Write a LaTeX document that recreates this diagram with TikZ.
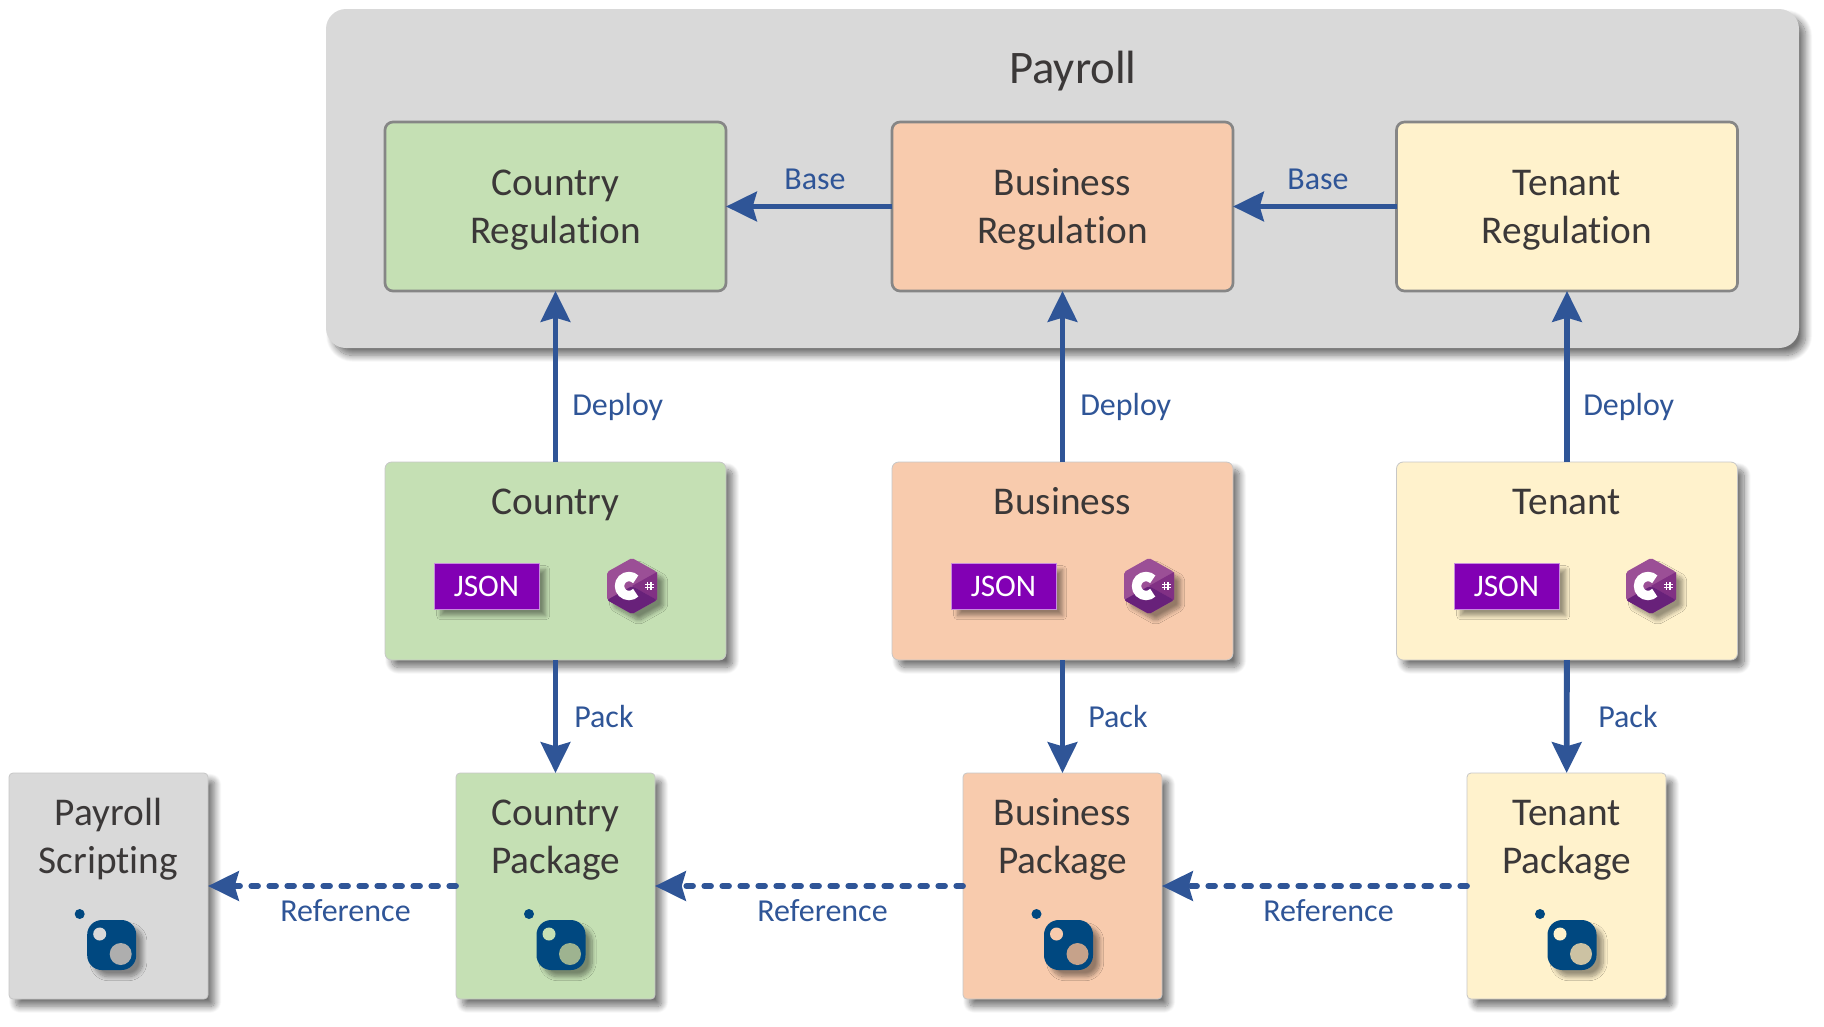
\documentclass[tikz,border=0pt]{standalone}
\usepackage{fontspec}
\setmainfont{Carlito}[Ligatures=NoCommon]
\usetikzlibrary{arrows.meta}
\usetikzlibrary{shadows.blur}
\usepackage{xcolor}
\definecolor{panelgray}{HTML}{D9D9D9}
\definecolor{countrygreen}{HTML}{C5E0B4}
\definecolor{businessorange}{HTML}{F8CBAD}
\definecolor{tenantyellow}{HTML}{FFF2CC}
\definecolor{flowblue}{HTML}{2F5597}
\definecolor{inktext}{HTML}{3B3838}
\definecolor{jsonpurple}{HTML}{8200B4}
\definecolor{nugetblue}{HTML}{004880}
\tikzset{
  softshadow/.style={blur shadow={shadow xshift=5pt,shadow yshift=-5.5pt,shadow blur radius=5pt,shadow blur steps=14,shadow opacity=55}},
  iconshadow/.style={blur shadow={shadow xshift=5pt,shadow yshift=-5pt,shadow blur radius=3pt,shadow blur steps=10,shadow opacity=40}},
  boxtext/.style={text=inktext,align=center,font=\fontsize{29.5}{36}\selectfont,inner sep=0pt},
  regbox/.style={draw=gray!95,line width=2pt,rounded corners=6pt,minimum width=255.75pt,minimum height=126.75pt,outer sep=0pt},
  sourcebox/.style={draw=black!22,line width=0.6pt,rounded corners=5pt,minimum width=255.75pt,minimum height=148.5pt,outer sep=0pt,softshadow},
  packagebox/.style={draw=black!22,line width=0.6pt,rounded corners=3pt,minimum width=149.25pt,minimum height=169.5pt,outer sep=0pt,softshadow},
  jsonbox/.style={fill=jsonpurple,draw=jsonpurple!45,line width=0.5pt,text=white,font=\fontsize{23.5}{26}\selectfont,minimum width=78.75pt,minimum height=34.5pt,inner sep=0pt,iconshadow},
  flowtext/.style={text=flowblue,font=\fontsize{24}{28}\selectfont,inner sep=0pt},
  flowline/.style={draw=flowblue,line width=4.4pt,-{Stealth[length=23pt,width=22pt,inset=3pt]}},
  refline/.style={flowline,dash pattern=on 5pt off 8.5pt,line cap=round},
  csharpicon/.pic={
    \path [fill={rgb,255:red,155;green,79;blue,150},rounded corners=1.5pt,iconshadow] (0,28) -- (25,14) -- (25,-14) -- (0,-28) -- (-25,-14) -- (-25,14) -- cycle;
    \fill [color={rgb,255:red,129;green,48;blue,132}] (0,0) -- (25,14) -- (25,-14) -- cycle;
    \fill [color={rgb,255:red,104;green,33;blue,122},rounded corners=1.5pt] (0,0) -- (25,-14) -- (0,-28) -- (-25,-14) -- cycle;
    \draw [white,line width=7pt] (3.72,6.72) arc [start angle=45,end angle=315,radius=9.5];
    \draw [white,line width=0.9pt] (15.2,4) -- (15.2,-4) (19,4) -- (19,-4) (13,1.6) -- (21.5,1.6) (13,-1.6) -- (21.5,-1.6);
  },
  pics/nugeticon/.style={code={
    \fill [nugetblue] (-32,31) circle [radius=5];
    \path [fill=nugetblue,iconshadow,rounded corners=11pt] (-24.5,25) rectangle (24.5,-25);
    \fill [#1] (-12,11) circle [radius=6.5];
    \fill [#1!80!black] (9,-9) circle [radius=11];
  }},
}
\begin{document}
\begin{tikzpicture}[x=0.75pt,y=0.75pt,yscale=-1,xscale=1]
\useasboundingbox (0,0) rectangle (1824,1026);

%Shape: Payroll panel
\path [fill=panelgray,rounded corners=15pt,softshadow] (326,9) rectangle (1799,348);
% Text Node
\node [text=inktext,font=\fontsize{35}{40}\selectfont,inner sep=0pt] (payrolltitle) at (1073,71.5) {Payroll};

%Regulation boxes
\node [regbox,fill=countrygreen] (countryreg) at (555.5,206.5) {};
\node [regbox,fill=businessorange] (businessreg) at (1062.5,206.5) {};
\node [regbox,fill=tenantyellow] (tenantreg) at (1567,206.5) {};
% Text Node
\node [boxtext] (countryregtext) at (555.5,210) {Country\strut\\Regulation\strut};
\node [boxtext] (businessregtext) at (1062.5,210) {Business\strut\\Regulation\strut};
\node [boxtext] (tenantregtext) at (1567,210) {Tenant\strut\\Regulation\strut};

%Source boxes
\node [sourcebox,fill=countrygreen] (country) at (555.5,561) {};
\node [sourcebox,fill=businessorange] (business) at (1062.5,561) {};
\node [sourcebox,fill=tenantyellow] (tenant) at (1567,561) {};
% Text Node
\node [boxtext] (countrytext) at (555.5,504.6) {Country\strut};
\node [boxtext] (businesstext) at (1062.5,504.6) {Business\strut};
\node [boxtext] (tenanttext) at (1567,504.6) {Tenant\strut};

%JSON tags
\node [jsonbox] (countryjson) at (486.5,586) {JSON};
\node [jsonbox] (businessjson) at (1003.5,586) {JSON};
\node [jsonbox] (tenantjson) at (1506.5,586) {JSON};

%C# icons
\pic at (632,586) {csharpicon};
\pic at (1149,586) {csharpicon};
\pic at (1651,586) {csharpicon};

%Package boxes
\node [packagebox,fill=panelgray] (scripting) at (108.5,886) {};
\node [packagebox,fill=countrygreen] (countrypkg) at (555.5,886) {};
\node [packagebox,fill=businessorange] (businesspkg) at (1062.5,886) {};
\node [packagebox,fill=tenantyellow] (tenantpkg) at (1566.5,886) {};
% Text Node
\node [boxtext] (scriptingtext) at (108.5,839.4) {Payroll\strut\\Scripting\strut};
\node [boxtext] (countrypkgtext) at (555.5,839.4) {Country\strut\\Package\strut};
\node [boxtext] (businesspkgtext) at (1062.5,839.4) {Business\strut\\Package\strut};
\node [boxtext] (tenantpkgtext) at (1566.5,839.4) {Tenant\strut\\Package\strut};

%NuGet icons
\pic at (111.7,945) {nugeticon=panelgray};
\pic at (561,945) {nugeticon=countrygreen};
\pic at (1068.5,945) {nugeticon=businessorange};
\pic at (1572,945) {nugeticon=tenantyellow};

%Straight Lines
\draw [flowline] (businessreg) -- (countryreg);
\draw [flowline] (tenantreg) -- (businessreg);
\draw [flowline] (country) -- (countryreg);
\draw [flowline] (business) -- (businessreg);
\draw [flowline] (tenant) -- (tenantreg);
\draw [flowline] (country) -- (countrypkg);
\draw [flowline] (business) -- (businesspkg);
\draw [flowline] (tenant) -- (tenantpkg);
\draw [refline] (countrypkg) -- (scripting);
\draw [refline] (businesspkg) -- (countrypkg);
\draw [refline] (tenantpkg) -- (businesspkg);

% Text Node
\node [flowtext] (basecountry) at (815,179) {Base};
\node [flowtext] (basebusiness) at (1318,179) {Base};
\node [flowtext,anchor=west] (deploycountry) at (572,406.5) {Deploy};
\node [flowtext,anchor=west] (deploybusiness) at (1080,406.5) {Deploy};
\node [flowtext,anchor=west] (deploytenant) at (1583,406.5) {Deploy};
\node [flowtext,anchor=west] (packcountry) at (574,716) {Pack};
\node [flowtext,anchor=west] (packbusiness) at (1088,716) {Pack};
\node [flowtext,anchor=west] (packtenant) at (1598,716) {Pack};
\node [flowtext] (refscripting) at (345.5,911) {Reference};
\node [flowtext] (refcountry) at (822.5,911) {Reference};
\node [flowtext] (refbusiness) at (1328.5,911) {Reference};

\end{tikzpicture}
\end{document}
